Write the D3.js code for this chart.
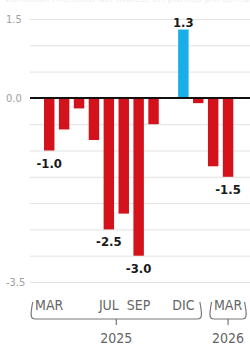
<!DOCTYPE html>
<html>
<head>
<meta charset="utf-8">
<script src="https://cdn.jsdelivr.net/npm/d3@7"></script>
<style>
  body { margin: 0; background: #fff; }
  svg { display: block; }
  text { font-family: "DejaVu Sans Condensed", "Liberation Sans Narrow", sans-serif; }
</style>
</head>
<body>
<svg id="canvas"></svg>
<script>
let months = ["2025-03", "2025-04", "2025-05", "2025-06", "2025-07", "2025-08", "2025-09",
              "2025-10", "2025-11", "2025-12", "2026-01", "2026-02", "2026-03"]
let values = [-1.0, -0.6, -0.2, -0.8, -2.5, -2.2, -3.0, -0.5, 0.0, 1.3, -0.1, -1.3, -1.5]
let labeled = ["2025-03", "2025-07", "2025-09", "2025-12", "2026-03"]

let yTicks = [1.5, 0.0, -3.5]
let gridTicks = [1.5, 1.0, 0.5, 0.0, -0.5, -1.0, -1.5, -2.0, -2.5, -3.0, -3.5]

let monthLabels = { "2025-03": "MAR", "2025-07": "JUL", "2025-09": "SEP", "2025-12": "DIC", "2026-03": "MAR" }

let years = ["2025", "2026"]
let yearFirst = ["2025-03", "2026-03"]
let yearLast = ["2025-12", "2026-03"]

let width = 250
let height = 349

let canvas = d3.select('#canvas')
               .attr('width', width)
               .attr('height', height)

let xScale = d3.scaleBand()
               .domain(months)
               .range([38.8, 238.5])
               .paddingInner(0.3)
               .paddingOuter(0.35)

let yScale = d3.scaleLinear()
               .domain([-3.5, 1.5])
               .range([282, 19])

// faint subtitle, cut off at the top like in the source
canvas.append('text')
      .attr('x', 4)
      .attr('y', 2)
      .attr('font-size', 11)
      .attr('fill', '#efefef')
      .text('Variación mensual del índice, en puntos porcentuales')

// gridlines
let grid = d3.axisLeft(yScale)
             .tickValues(gridTicks)
             .tickSize(-(width - 30))
             .tickFormat('')

canvas.append('g')
      .attr('transform', 'translate(30, 0)')
      .call(grid)
      .call(g => g.select('.domain').remove())
      .call(g => g.selectAll('line').attr('stroke', '#e2e2e2').attr('stroke-width', 1))

// y tick labels
let yAxis = d3.axisLeft(yScale)
              .tickValues(yTicks)
              .tickSize(0)
              .tickFormat(d => d.toFixed(1))

canvas.append('g')
      .attr('transform', 'translate(6, 0)')
      .call(yAxis)
      .call(g => g.select('.domain').remove())
      .call(g => g.selectAll('text')
                  .attr('x', 0)
                  .attr('text-anchor', 'start')
                  .attr('font-family', '"DejaVu Sans Condensed", sans-serif')
                  .attr('font-size', 11)
                  .attr('fill', '#a0a0a0'))

// bars
canvas.selectAll('rect.bar')
      .data(values)
      .enter()
      .append('rect')
      .attr('class', 'bar')
      .attr('x', (v, i) => xScale(months[i]))
      .attr('width', xScale.bandwidth())
      .attr('y', v => yScale(Math.max(0, v)))
      .attr('height', v => Math.abs(yScale(v) - yScale(0)))
      .attr('fill', v => v > 0 ? '#19aee8' : '#d3121b')

// zero line
canvas.append('line')
      .attr('x1', 30)
      .attr('x2', width)
      .attr('y1', yScale(0))
      .attr('y2', yScale(0))
      .attr('stroke', '#111')
      .attr('stroke-width', 2)

// value labels
canvas.selectAll('text.value')
      .data(values.map((v, i) => ({ m: months[i], v: v })).filter(d => labeled.includes(d.m)))
      .enter()
      .append('text')
      .attr('class', 'value')
      .attr('x', d => xScale(d.m) + xScale.bandwidth() / 2)
      .attr('y', d => d.v > 0 ? yScale(d.v) - 3 : yScale(d.v) + 17)
      .attr('text-anchor', 'middle')
      .attr('font-size', 13)
      .attr('font-weight', 'bold')
      .attr('fill', '#1a1a1a')
      .text(d => d.v.toFixed(1))

// month labels
let xAxis = d3.axisBottom(xScale)
              .tickValues(Object.keys(monthLabels))
              .tickSize(0)
              .tickFormat(m => monthLabels[m])

canvas.append('g')
      .attr('transform', 'translate(0, 299)')
      .call(xAxis)
      .call(g => g.select('.domain').remove())
      .call(g => g.selectAll('text')
                  .attr('y', 0)
                  .attr('dy', '0.8em')
                  .attr('font-family', '"DejaVu Sans Condensed", sans-serif')
                  .attr('font-size', 14)
                  .attr('fill', '#666'))

// year braces
let braceTop = 302
let braceY = 319
let r = 4

years.forEach((yr, i) => {
  let x1 = xScale(yearFirst[i]) + xScale.bandwidth() / 2 - 18
  let x2 = Math.min(xScale(yearLast[i]) + xScale.bandwidth() / 2 + 18, width - 2)
  let mid = (x1 + x2) / 2
  let path = d3.path()
  path.moveTo(x1 + 1.5, braceTop)
  path.quadraticCurveTo(x1 - 0.5, braceY - 6, x1, braceY - r)
  path.quadraticCurveTo(x1, braceY, x1 + r, braceY)
  path.lineTo(x2 - r, braceY)
  path.quadraticCurveTo(x2, braceY, x2, braceY - r)
  path.quadraticCurveTo(x2 + 0.5, braceY - 6, x2 - 1.5, braceTop)
  path.moveTo(mid, braceY)
  path.lineTo(mid, braceY + 6)

  canvas.append('path')
        .attr('d', path.toString())
        .attr('fill', 'none')
        .attr('stroke', '#777')
        .attr('stroke-width', 1.2)

  canvas.append('text')
        .attr('x', mid)
        .attr('y', 343)
        .attr('text-anchor', 'middle')
        .attr('font-size', 14)
        .attr('fill', '#666')
        .text(yr)
})
</script>
</body>
</html>
